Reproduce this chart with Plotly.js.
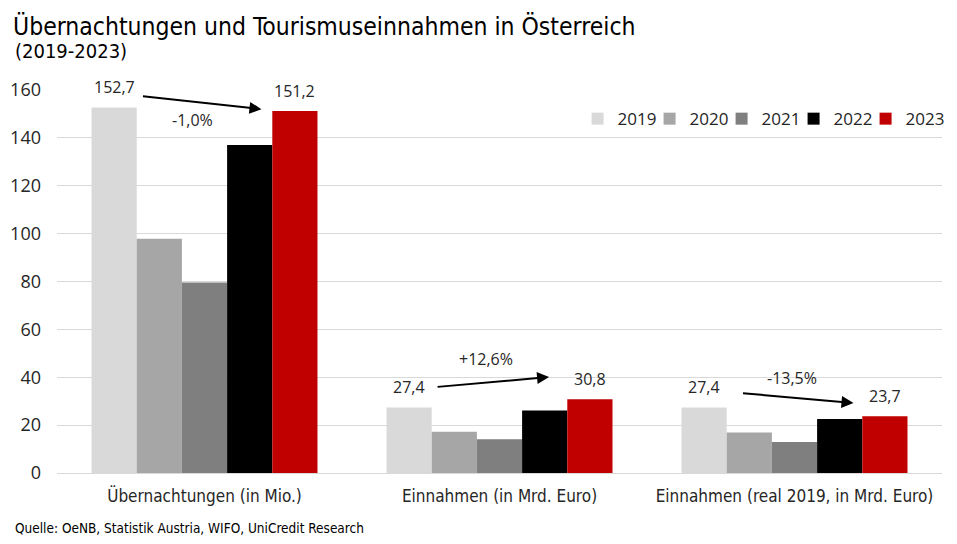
<!DOCTYPE html>
<html>
<head>
<meta charset="utf-8">
<script src="https://cdn.plot.ly/plotly-3.0.1.min.js"></script>
<style>html,body{margin:0;padding:0;background:#fff;}#chart{width:957px;height:544px;}</style>
</head>
<body>
<div id="chart"></div>
<script>
// ---- Data ----
const categories = ["Übernachtungen (in Mio.)", "Einnahmen (in Mrd. Euro)", "Einnahmen (real 2019, in Mrd. Euro)"];
const years = ["2019", "2020", "2021", "2022", "2023"];
const v2019 = [152.7, 27.4, 27.4];
const v2020 = [97.9, 17.2, 16.9];
const v2021 = [79.6, 14.1, 13.0];
const v2022 = [137.0, 26.1, 22.6];
const v2023 = [151.2, 30.8, 23.7];
const pctLabels = ["-1,0%", "+12,6%", "-13,5%"];
const yTicks = [0, 20, 40, 60, 80, 100, 120, 140, 160];

const seriesValues = [v2019, v2020, v2021, v2022, v2023];
const colors = ["#d9d9d9", "#a6a6a6", "#7f7f7f", "#000000", "#c00000"];

const numFont = "Open Sans, Noto Sans, sans-serif";
const condFont = "Liberation Sans Narrow, DejaVu Sans Condensed, Roboto, sans-serif";

const traces = years.map((yr, k) => ({
  type: "bar",
  name: yr,
  x: categories,
  y: seriesValues[k],
  marker: {color: colors[k], line: {width: 0}},
  hoverinfo: "x+y+name"
}));

const bargap = 0.234;
const barW = (1 - bargap) / years.length;
const offsetOf = k => (k - (years.length - 1) / 2) * barW;
const fmt = v => v.toFixed(1).replace(".", ",");

const annotations = [];
// value labels for first and last year
[0, years.length - 1].forEach(k => {
  seriesValues[k].forEach((v, i) => {
    annotations.push({
      x: i + offsetOf(k), y: v, xref: "x", yref: "y",
      text: fmt(v), showarrow: false, yanchor: "bottom", yshift: 7,
      font: {family: numFont, size: 16, color: "#262626"}
    });
  });
});

// arrows (tip position in data coords, tail offset in px)
const arrows = [
  {x: 0.193, y: 152.0, ax: -120, ay: -13},
  {x: 1.168, y: 40.1, ax: -113, ay: 10},
  {x: 2.200, y: 29.2, ax: -112, ay: -10}
];
arrows.forEach(a => annotations.push({
  x: a.x, y: a.y, xref: "x", yref: "y", ax: a.ax, ay: a.ay, axref: "pixel", ayref: "pixel",
  text: "", showarrow: true, arrowhead: 2, arrowsize: 1.2, arrowwidth: 2, arrowcolor: "#000", standoff: 0
}));

// percent change labels
const pctPos = [{x: -0.04, y: 147.4}, {x: 0.954, y: 47.6}, {x: 1.99, y: 39.7}];
pctLabels.forEach((t, i) => annotations.push({
  x: pctPos[i].x, y: pctPos[i].y, xref: "x", yref: "y", text: t, showarrow: false,
  font: {family: numFont, size: 16, color: "#262626"}
}));

// subtitle and source
annotations.push({
  xref: "paper", yref: "paper", x: -0.0497, y: 1.102, xanchor: "left", yanchor: "middle",
  text: "(2019-2023)", showarrow: false, font: {family: condFont, size: 20, color: "#000"}
});
annotations.push({
  xref: "paper", yref: "paper", x: -0.0497, y: -0.1436, xanchor: "left", yanchor: "middle",
  text: "Quelle: OeNB, Statistik Austria, WIFO, UniCredit Research", showarrow: false,
  font: {family: condFont, size: 13.5, color: "#000"}
});

const layout = {
  width: 957, height: 544,
  margin: {l: 57, r: 15, t: 90, b: 71, pad: 0},
  paper_bgcolor: "#fff", plot_bgcolor: "#fff",
  barmode: "group", bargap: bargap, bargroupgap: 0,
  title: {
    text: "Übernachtungen und Tourismuseinnahmen in Österreich",
    x: 13 / 957, xref: "container", xanchor: "left",
    y: 1 - 26 / 544, yref: "container", yanchor: "middle",
    font: {family: condFont, size: 24.5, color: "#000"}
  },
  xaxis: {
    type: "category", range: [-0.5, 2.5],
    showgrid: false, zeroline: false, showline: false, ticks: "",
    tickfont: {family: condFont, size: 17, color: "#262626"},
    ticklabelstandoff: 11
  },
  yaxis: {
    range: [0, 160], tickvals: yTicks, ticktext: yTicks.map(String),
    showgrid: true, gridcolor: "#d9d9d9", gridwidth: 1,
    zeroline: true, zerolinecolor: "#d9d9d9", zerolinewidth: 1,
    showline: false, ticks: "",
    tickfont: {family: numFont, size: 18, color: "#262626"},
    ticklabelstandoff: 15
  },
  showlegend: true,
  legend: {
    orientation: "h", x: 0.995, xanchor: "right", y: 0.924, yanchor: "middle",
    font: {family: numFont, size: 17, color: "#262626"},
    bgcolor: "rgba(0,0,0,0)", itemwidth: 30, entrywidth: 27, entrywidthmode: "pixels",
    traceorder: "normal"
  },
  annotations: annotations
};

Plotly.newPlot("chart", traces, layout, {displayModeBar: false, staticPlot: true}).then(gd => {
  // let the last legend label extend past the compact legend box
  gd.querySelectorAll(".legend .scrollbox, .legend").forEach(el => {
    el.removeAttribute("clip-path");
    el.style.clipPath = "none";
  });
});
</script>
</body>
</html>
